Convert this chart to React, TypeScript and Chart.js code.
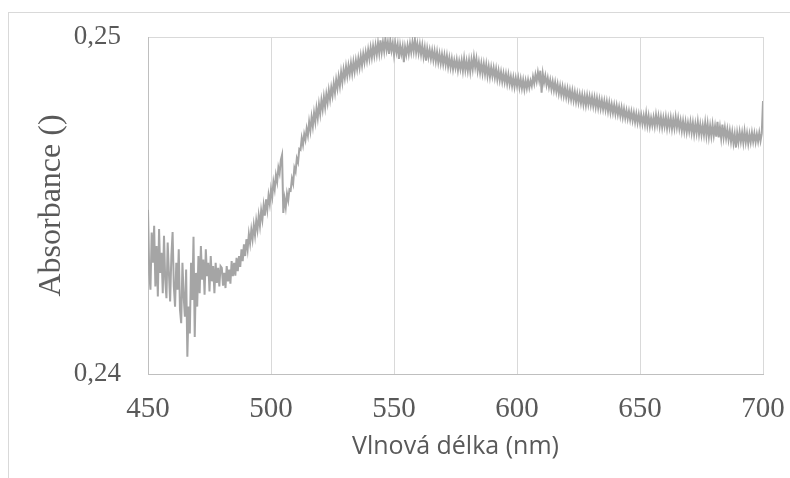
import React, { useEffect, useRef } from "react";
import { Chart, registerables } from "chart.js";

Chart.register(...registerables);

// Sampling grid of the spectrum (nm)
const WAVELENGTH_START = 450;
const WAVELENGTH_STEP = 0.5;

// Absorbance, one value every 0.5 nm, 450..700 nm
const ABSORBANCE: number[] = [
  0.24487, 0.243, 0.2425, 0.2442, 0.2433, 0.2444, 0.2426, 0.2438, 0.2423, 0.2443,
  0.243, 0.2436, 0.2424, 0.2441, 0.2428, 0.24225, 0.2439, 0.243, 0.24215, 0.2435,
  0.24421, 0.2426, 0.242, 0.2433, 0.2425, 0.2437, 0.2419, 0.24151, 0.2433, 0.2423,
  0.2417, 0.2431, 0.24051, 0.242, 0.2412, 0.2433, 0.2422, 0.24407, 0.2411, 0.243,
  0.242, 0.2435, 0.2424, 0.2438, 0.2428, 0.2434, 0.24235, 0.2437, 0.2429, 0.2433,
  0.24245, 0.2435, 0.24275, 0.2432, 0.2424, 0.2433, 0.2427, 0.24315, 0.2426, 0.2432,
  0.24315, 0.24262, 0.243, 0.24255, 0.2432, 0.24275, 0.2431, 0.24268, 0.24335, 0.2429,
  0.2433, 0.24292, 0.24345, 0.24305, 0.2435, 0.24318, 0.2437, 0.24335, 0.24385, 0.2435,
  0.244, 0.2437, 0.24415, 0.24388, 0.24428, 0.244, 0.24442, 0.24412, 0.24455, 0.24428,
  0.2447, 0.2444, 0.24485, 0.24458, 0.245, 0.2447, 0.24518, 0.24488, 0.2453, 0.24505,
  0.24548, 0.24525, 0.2457, 0.24548, 0.2459, 0.2457, 0.24612, 0.24595, 0.24635, 0.2465,
  0.24478, 0.2452, 0.24495, 0.24535, 0.24515, 0.24548, 0.24545, 0.2458, 0.24565, 0.24612,
  0.246, 0.2464, 0.24628, 0.24668, 0.24665, 0.247, 0.2468, 0.24712, 0.24695, 0.24728,
  0.24708, 0.24748, 0.24722, 0.24762, 0.24735, 0.24775, 0.24748, 0.24788, 0.2476, 0.248,
  0.24772, 0.24812, 0.24785, 0.24822, 0.24792, 0.2483, 0.24805, 0.24842, 0.24815, 0.2485,
  0.24826, 0.24862, 0.24835, 0.24873, 0.24848, 0.24882, 0.24855, 0.24895, 0.24866, 0.24903,
  0.24878, 0.24912, 0.24884, 0.24915, 0.2489, 0.24922, 0.24892, 0.24926, 0.24898, 0.2493,
  0.24905, 0.24936, 0.2491, 0.24944, 0.24916, 0.2495, 0.24925, 0.24955, 0.2493, 0.24962,
  0.24936, 0.24968, 0.2494, 0.24972, 0.24945, 0.24975, 0.24948, 0.24982, 0.24952, 0.2499,
  0.24955, 0.24985, 0.24958, 0.24995, 0.24962, 0.24985, 0.2495, 0.2499, 0.2496, 0.24982,
  0.24948, 0.24982, 0.24955, 0.24978, 0.24935, 0.24975, 0.2495, 0.24972, 0.24925, 0.2497,
  0.24948, 0.24975, 0.2495, 0.2498, 0.24955, 0.24985, 0.24958, 0.24992, 0.24955, 0.2498,
  0.24952, 0.24978, 0.24948, 0.24975, 0.24942, 0.24968, 0.2493, 0.24965, 0.2494, 0.24962,
  0.24936, 0.2496, 0.24932, 0.24958, 0.24928, 0.24955, 0.24925, 0.2495, 0.24922, 0.24948,
  0.2492, 0.24946, 0.24918, 0.24944, 0.24912, 0.24938, 0.2491, 0.24935, 0.24905, 0.2493,
  0.24908, 0.24932, 0.24902, 0.24928, 0.24905, 0.2493, 0.249, 0.24935, 0.24902, 0.24928,
  0.249, 0.2493, 0.24898, 0.24932, 0.24905, 0.2494, 0.2491, 0.24935, 0.249, 0.24925,
  0.24895, 0.24922, 0.24892, 0.2492, 0.2489, 0.24918, 0.24885, 0.24912, 0.24882, 0.2491,
  0.24884, 0.24908, 0.2488, 0.24905, 0.24875, 0.249, 0.24872, 0.24896, 0.24868, 0.24892,
  0.24866, 0.2489, 0.24862, 0.24888, 0.2486, 0.24882, 0.24855, 0.2488, 0.24852, 0.24878,
  0.24855, 0.24878, 0.2485, 0.24875, 0.24848, 0.24872, 0.24845, 0.2487, 0.24848, 0.24872,
  0.2485, 0.2487, 0.24855, 0.24882, 0.24862, 0.24888, 0.24868, 0.24895, 0.24872, 0.249,
  0.24835, 0.2489, 0.24865, 0.24885, 0.24858, 0.24878, 0.24852, 0.24872, 0.24845, 0.24868,
  0.24842, 0.24865, 0.24838, 0.2486, 0.24832, 0.24855, 0.24828, 0.24852, 0.24825, 0.24848,
  0.24822, 0.24846, 0.24818, 0.24842, 0.24815, 0.2484, 0.24812, 0.24836, 0.24808, 0.24832,
  0.24806, 0.2483, 0.24804, 0.24828, 0.248, 0.24825, 0.24798, 0.24826, 0.248, 0.24824,
  0.24798, 0.24822, 0.24795, 0.2482, 0.24792, 0.24818, 0.2479, 0.24815, 0.24788, 0.24812,
  0.24786, 0.2481, 0.24784, 0.24808, 0.2478, 0.24805, 0.24776, 0.248, 0.24775, 0.24798,
  0.24772, 0.24796, 0.2477, 0.24792, 0.24766, 0.2479, 0.24762, 0.24786, 0.2476, 0.24782,
  0.24758, 0.2478, 0.24755, 0.24778, 0.24752, 0.24775, 0.24748, 0.24772, 0.24746, 0.2477,
  0.24745, 0.24768, 0.24742, 0.24766, 0.2474, 0.24772, 0.24738, 0.24765, 0.24735, 0.2476,
  0.24738, 0.24762, 0.24736, 0.24768, 0.2474, 0.24765, 0.24735, 0.24762, 0.24732, 0.2476,
  0.24735, 0.24762, 0.2473, 0.24758, 0.24732, 0.2476, 0.24728, 0.24756, 0.2473, 0.24762,
  0.24732, 0.24758, 0.24728, 0.24752, 0.24722, 0.2475, 0.2472, 0.24748, 0.24718, 0.24745,
  0.2472, 0.24748, 0.24716, 0.24745, 0.24712, 0.24742, 0.24715, 0.24748, 0.24712, 0.2474,
  0.2471, 0.24738, 0.2471, 0.24745, 0.24708, 0.24742, 0.24705, 0.24736, 0.24706, 0.2474,
  0.24708, 0.24735, 0.24704, 0.24748, 0.24702, 0.24732, 0.247, 0.2474, 0.24702, 0.2473,
  0.247, 0.24726, 0.24696, 0.24722, 0.2469, 0.24718, 0.24685, 0.24712, 0.24672, 0.24715,
  0.24688, 0.24718, 0.2469, 0.24716, 0.24686, 0.2472, 0.24688, 0.24714, 0.24684, 0.24712,
  0.24688, 0.24716, 0.2469, 0.24714, 0.24688, 0.24712, 0.2469, 0.24716, 0.24692, 0.24714,
  0.2481,
];

const X_MIN = 450;
const X_MAX = 700;
const X_STEP = 50;
const Y_MIN = 0.24;
const Y_MAX = 0.25;
const Y_STEP = 0.01;

const X_TITLE = "Vlnová délka (nm)";
const Y_TITLE = "Absorbance ()";

function zeroPadding(s: any) {
  s.paddingLeft = 0;
  s.paddingRight = 0;
  s.paddingTop = 0;
  s.paddingBottom = 0;
}

export default function App() {
  const canvasRef = useRef<HTMLCanvasElement | null>(null);

  useEffect(() => {
    if (!canvasRef.current) return;
    const points = ABSORBANCE.map((y, i) => ({ x: WAVELENGTH_START + i * WAVELENGTH_STEP, y }));
    const chart = new Chart(canvasRef.current, {
      type: "line",
      data: {
        datasets: [
          {
            data: points,
            borderColor: "#a5a5a5",
            borderWidth: 2,
            pointRadius: 0,
            tension: 0,
            fill: false,
          },
        ],
      },
      options: {
        animation: false,
        responsive: false,
        layout: { padding: { left: 0, right: 27, top: 37, bottom: 0 } },
        plugins: { legend: { display: false }, tooltip: { enabled: false } },
        scales: {
          x: {
            type: "linear",
            min: X_MIN,
            max: X_MAX,
            afterFit: (s: any) => {
              s.height = 104;
              zeroPadding(s);
            },
            ticks: {
              stepSize: X_STEP,
              padding: 18,
              color: "#595959",
              font: { family: "'Liberation Serif', serif", size: 29 },
              maxRotation: 0,
            },
            grid: { color: "#d9d9d9", lineWidth: 1, drawTicks: false },
            border: { color: "#bfbfbf", width: 1 },
            title: {
              display: true,
              text: X_TITLE,
              color: "#595959",
              font: { family: "'Open Sans', sans-serif", size: 25 },
              padding: { top: 0, bottom: 16 },
            },
          },
          y: {
            type: "linear",
            min: Y_MIN,
            max: Y_MAX,
            afterFit: (s: any) => {
              s.width = 148;
              zeroPadding(s);
            },
            ticks: {
              stepSize: Y_STEP,
              padding: 27,
              color: "#595959",
              font: { family: "'Liberation Serif', serif", size: 27 },
              callback: (v: any) => Number(v).toFixed(2).replace(".", ","),
            },
            grid: { color: "#d9d9d9", lineWidth: 1, drawTicks: false },
            border: { color: "#bfbfbf", width: 1 },
            title: {
              display: true,
              text: Y_TITLE,
              color: "#595959",
              font: { family: "'Liberation Serif', serif", size: 32 },
              padding: { top: 32, bottom: 0 },
            },
          },
        },
      },
    });
    return () => chart.destroy();
  }, []);

  return (
    <div style={{ position: "fixed", left: 0, top: 0, width: 790, height: 478, background: "#ffffff", overflow: "hidden" }}>
      <div
        style={{
          position: "absolute",
          left: 8,
          top: 12,
          width: 782,
          height: 466,
          borderTop: "1px solid #d9d9d9",
          borderLeft: "1px solid #d9d9d9",
          boxSizing: "border-box",
        }}
      />
      <canvas ref={canvasRef} width={790} height={478} style={{ position: "absolute", left: 0, top: 0 }} />
    </div>
  );
}
